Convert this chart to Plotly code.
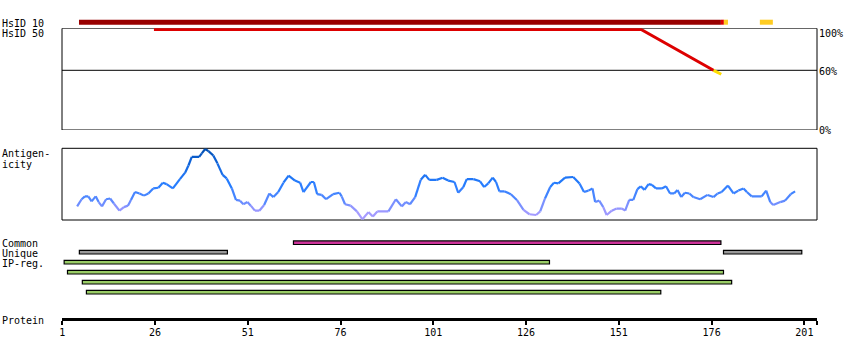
import plotly.graph_objects as go

# ---------------- data ----------------
TICK_VALUES = [1, 26, 51, 76, 101, 126, 151, 176, 201]
TICK_LABELS = [str(v) for v in TICK_VALUES]
PROTEIN_END = 204.3

# HsID 10 coverage bar segments (residue start / end)
HSID10_START = [5.5, 178.5, 179.3, 189.0]
HSID10_END = [178.5, 179.3, 180.4, 192.5]
HSID10_COLOR = ["#990000", "#dd0000", "#ffcc22", "#ffcc22"]

# HsID 50 identity profile (% identity)
HSID50_RES = [25.7, 157.0, 176.5]
HSID50_PCT = [101, 101, 60]
HSID50_LOW_RES = [176.5, 178.6]
HSID50_LOW_PCT = [60, 56]

# Antigenicity profile (normalised 0..1)
ANTIGEN_RES = [5.0, 6.2, 7.1, 8.0, 8.9, 10.0, 10.8, 11.7, 12.8, 13.9, 14.9, 16.4, 17.6, 18.7, 19.5,
               20.6, 21.8, 23.0, 24.2, 25.5, 26.9, 28.1, 29.1, 30.8, 32.7, 34.1, 35.0, 35.9, 37.9,
               38.6, 39.5, 40.4, 41.7, 42.8, 44.2, 45.3, 46.7, 47.8, 48.9, 49.8, 50.9, 51.8, 52.9,
               54.1, 55.4, 56.8, 57.9, 59.2, 60.6, 62.0, 63.7, 65.1, 66.0, 68.0, 68.8, 69.7, 70.9,
               72.1, 74.0, 75.7, 76.3, 77.2, 78.7, 80.4, 81.9, 83.5, 84.7, 85.9, 88.9, 90.9, 92.5,
               93.6, 94.7, 96.1, 97.6, 98.8, 99.9, 101.9, 103.5, 105.0, 106.7, 107.7, 109.1, 110.0,
               111.8, 113.6, 114.7, 115.8, 117.0, 117.9, 118.8, 120.1, 121.9, 123.5, 125.3, 126.9,
               128.7, 129.8, 131.1, 132.5, 133.5, 134.7, 136.5, 138.7, 140.4, 141.6, 142.8, 143.9,
               144.6, 145.7, 146.8, 147.7, 149.1, 150.4, 151.8, 152.7, 153.8, 154.9, 156.0, 156.9,
               157.9, 159.0, 159.9, 161.0, 162.6, 163.7, 164.8, 165.9, 166.8, 167.8, 168.8, 170.0,
               171.1, 172.9, 174.9, 176.5, 177.6, 178.7, 180.4, 181.9, 183.2, 184.6, 185.5, 186.8,
               189.5, 190.7, 191.8, 192.6, 194.5, 195.8, 197.3, 198.5]
ANTIGEN_VAL = [0.19, 0.29, 0.33, 0.33, 0.26, 0.33, 0.25, 0.19, 0.29, 0.30, 0.23, 0.13, 0.18, 0.20, 0.28,
               0.39, 0.37, 0.34, 0.37, 0.44, 0.45, 0.52, 0.50, 0.44, 0.57, 0.66, 0.76, 0.88, 0.88,
               0.93, 0.99, 0.96, 0.90, 0.79, 0.63, 0.58, 0.44, 0.28, 0.27, 0.22, 0.25, 0.20, 0.13,
               0.13, 0.21, 0.37, 0.32, 0.39, 0.52, 0.62, 0.55, 0.52, 0.39, 0.53, 0.53, 0.36, 0.35,
               0.29, 0.36, 0.38, 0.33, 0.22, 0.20, 0.12, 0.01, 0.11, 0.05, 0.12, 0.12, 0.29, 0.19,
               0.25, 0.22, 0.32, 0.56, 0.63, 0.56, 0.56, 0.59, 0.55, 0.53, 0.38, 0.46, 0.57,
               0.57, 0.54, 0.46, 0.51, 0.59, 0.53, 0.40, 0.40, 0.36, 0.28, 0.14, 0.08,
               0.07, 0.12, 0.30, 0.46, 0.52, 0.51, 0.59, 0.60, 0.51, 0.39, 0.41, 0.44,
               0.25, 0.27, 0.18, 0.07, 0.13, 0.16, 0.16, 0.13, 0.28, 0.28, 0.43, 0.47,
               0.42, 0.50, 0.49, 0.44, 0.44, 0.47, 0.37, 0.37, 0.42, 0.32, 0.38, 0.37,
               0.32, 0.29, 0.35, 0.32, 0.37, 0.39, 0.48, 0.37, 0.41, 0.44, 0.39, 0.33,
               0.33, 0.41, 0.25, 0.21, 0.25, 0.27, 0.36, 0.40]

# Feature bars (residue start / end)
COMMON_START = [63.3]
COMMON_END = [178.5]
UNIQUE_START = [5.6, 179.2]
UNIQUE_END = [45.5, 200.3]
IPREG_START = [1.5, 2.4, 6.4, 7.5]
IPREG_END = [132.3, 179.2, 181.4, 162.3]

# ---------------- layout constants (pixels) ----------------
W, H = 850, 360
ML, MR = 62, 33
PW = W - ML - MR
FONT = "DejaVu Sans Mono"


def paper_x(px):
    return (px - ML) / PW


def paper_y(py):
    return (H - py) / H


ANTIGEN_STOPS = [(0.0, (178, 160, 255)), (0.15, (150, 150, 255)), (0.3, (80, 135, 255)),
                 (0.5, (38, 125, 255)), (0.8, (16, 100, 220)), (1.0, (0, 78, 175))]


def antigen_color(v):
    for (a, ca), (b, cb) in zip(ANTIGEN_STOPS[:-1], ANTIGEN_STOPS[1:]):
        if v <= b:
            t = (v - a) / (b - a) if b > a else 0
            c = [round(ca[i] + (cb[i] - ca[i]) * t) for i in range(3)]
            return "rgb(%d,%d,%d)" % tuple(c)
    return "rgb(%d,%d,%d)" % ANTIGEN_STOPS[-1][1]


fig = go.Figure()

# HsID 10 bar (canvas axis y, pixel rows)
for s, e, c in zip(HSID10_START, HSID10_END, HSID10_COLOR):
    fig.add_trace(go.Bar(orientation="h", y=[22.2], x=[e - s], base=[s], width=[5],
                         marker=dict(color=c, line=dict(width=0)), xaxis="x", yaxis="y"))

# HsID 50 identity profile
fig.add_trace(go.Scatter(x=HSID50_RES, y=HSID50_PCT, mode="lines",
                         line=dict(color="#dd0000", width=3), xaxis="x", yaxis="y2"))
fig.add_trace(go.Scatter(x=HSID50_LOW_RES, y=HSID50_LOW_PCT, mode="lines",
                         line=dict(color="#ffdd00", width=3), xaxis="x", yaxis="y2"))

# Antigenicity profile, segment-coloured
for i in range(len(ANTIGEN_RES) - 1):
    v = (ANTIGEN_VAL[i] + ANTIGEN_VAL[i + 1]) / 2
    fig.add_trace(go.Scatter(x=ANTIGEN_RES[i:i + 2], y=ANTIGEN_VAL[i:i + 2], mode="lines",
                             line=dict(color=antigen_color(v), width=2.2),
                             xaxis="x", yaxis="y3"))


def add_feature_bars(starts, ends, row_centres, color):
    for s, e, yc in zip(starts, ends, row_centres):
        fig.add_trace(go.Bar(orientation="h", y=[yc], x=[e - s], base=[s], width=[3.6],
                             marker=dict(color=color, line=dict(color="black", width=1.2)),
                             xaxis="x", yaxis="y"))


add_feature_bars(COMMON_START, COMMON_END, [242.7], "#cc3399")
add_feature_bars(UNIQUE_START, UNIQUE_END, [252.2, 252.2], "#999999")
add_feature_bars(IPREG_START, IPREG_END, [262.2, 272.2, 282.2, 292.2], "#99cc66")

# HsID panel: 0% at pixel 130, 100% at pixel 30.5; frame top at pixel 28.3
HSID_TOP_PCT = (130 - 28.3) / (130 - 30.5) * 100

shapes = [
    dict(type="rect", xref="paper", yref="y2", x0=0, x1=1, y0=0, y1=HSID_TOP_PCT,
         line=dict(color="black", width=1), layer="below"),
    dict(type="line", xref="paper", yref="y2", x0=0, x1=1, y0=60, y1=60,
         line=dict(color="black", width=1), layer="below"),
    dict(type="rect", xref="paper", yref="y3 domain", x0=0, x1=1, y0=0, y1=1,
         line=dict(color="black", width=1), layer="below"),
]

annotations = []


def label(text, px, py, xanchor="left"):
    annotations.append(dict(text=text, xref="paper", yref="y", x=paper_x(px), y=py,
                            xanchor=xanchor, yanchor="middle", showarrow=False,
                            font=dict(family=FONT, size=10, color="black")))


label("HsID 10", 0, 23)
label("HsID 50", 0, 33)
label("Antigen-", 0, 153)
label("icity", 0, 164)
label("Common", 0, 243.5)
label("Unique", 0, 253.5)
label("IP-reg.", 0, 263.5)
label("Protein", 0, 320)
label("100%", 817, 33)
label("60%", 817, 71)
label("0%", 817, 130.5)

fig.update_layout(
    width=W, height=H,
    margin=dict(l=ML, r=MR, t=0, b=0, pad=0),
    paper_bgcolor="white", plot_bgcolor="rgba(0,0,0,0)",
    showlegend=False, barmode="overlay",
    shapes=shapes, annotations=annotations,
    xaxis=dict(range=[0.92, 204.4], anchor="free", position=paper_y(318.5),
               showgrid=False, zeroline=False, showline=True, linewidth=3, linecolor="black",
               ticks="outside", ticklen=4, tickwidth=2, tickcolor="black",
               tickvals=TICK_VALUES + [PROTEIN_END], ticktext=TICK_LABELS + [""],
               ticklabelstandoff=-1,
               tickfont=dict(family=FONT, size=10, color="black"), fixedrange=True),
    yaxis=dict(range=[H, 0], domain=[0, 1], visible=False, fixedrange=True),
    yaxis2=dict(range=[0, HSID_TOP_PCT], domain=[paper_y(130), paper_y(28.3)], anchor="x",
                visible=False, fixedrange=True),
    yaxis3=dict(range=[0, 1], domain=[paper_y(220), paper_y(148.3)], anchor="x",
                visible=False, fixedrange=True),
)

fig.write_html("out.html", config={"displayModeBar": False},
               post_script="document.body.style.margin='0';document.body.style.overflow='hidden';")
